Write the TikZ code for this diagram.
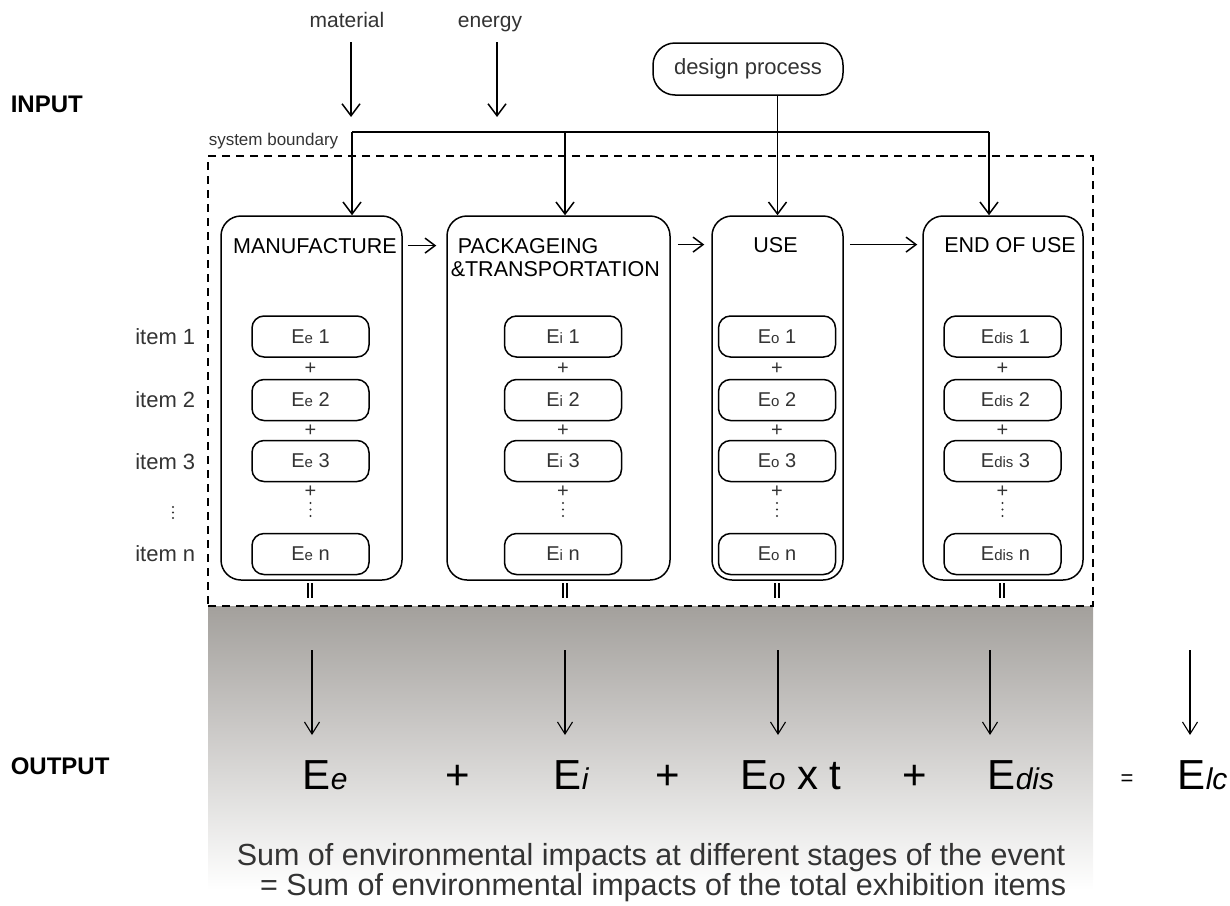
\documentclass[tikz,border=0pt]{standalone}
\usepackage{fontspec}
\setmainfont{Liberation Sans}
\usetikzlibrary{arrows.meta,calc}
\definecolor{txt}{HTML}{333333}
\definecolor{gtop}{RGB}{163,160,156}
\newcommand{\myfs}[1]{\fontsize{#1}{#1}\selectfont}
\begin{document}
\begin{tikzpicture}[x=1pt,y=-1pt,line width=1.5pt,
  arr/.style={-{Straight Barb[length=12pt,width=18pt,line width=1.5pt]}},
  sarr/.style={-{Straight Barb[length=10pt,width=15pt,line width=1.5pt]}},
  oarr/.style={line width=1.1pt,-{Straight Barb[length=12pt,width=15pt,line width=1.1pt]}},
  stagebox/.style={draw,rounded corners=20pt,inner sep=0pt,minimum height=364pt,minimum width=#1},
  itembox/.style={draw,rounded corners=12pt,inner sep=0pt,minimum width=117pt,minimum height=41pt,text=txt,font=\myfs{20}},
  title/.style={inner sep=0pt,anchor=base,font=\myfs{21.5}},
  lbl/.style={inner sep=0pt,text=txt},
  plus/.style={inner sep=0pt,text=txt,font=\myfs{20}},
  big/.style={inner sep=0pt,anchor=base west,font=\myfs{42}},
  dbar/.style={line width=1.2pt}
]
\useasboundingbox (0,0) rectangle (1230,905);
% gradient output area
\shade[top color=gtop,bottom color=white] (208,606) rectangle (1093,890);

% labels left
\node[inner sep=0pt,anchor=west,font=\bfseries\myfs{24}] (inp) at (10,104) {INPUT};
\node[inner sep=0pt,anchor=west,font=\bfseries\myfs{24}] (outp) at (10,766) {OUTPUT};

% inputs
\node[lbl,anchor=base,font=\myfs{21}] (mat) at (347,27) {material};
\node[lbl,anchor=base,font=\myfs{21}] (ene) at (490,27) {energy};
\coordinate (ma1) at (351,42); \coordinate (ma2) at (351,117);
\coordinate (en1) at (497,42); \coordinate (en2) at (497,117);
\draw[arr] (ma1) -- (ma2);
\draw[arr] (en1) -- (en2);
\node[draw,rounded corners=22pt,minimum width=190pt,minimum height=52pt,inner sep=0pt,font=\myfs{22},text=txt] (dp) at (748,69) {design process};

% system boundary
\node[lbl,anchor=west,font=\myfs{17}] (sbl) at (208,141) {system boundary};
\node[draw,dash pattern=on 8pt off 6pt,minimum width=885pt,minimum height=450pt,inner sep=0pt] (sb) at (650.5,381) {};

% stage boxes
\node[stagebox=181pt] (man) at (311.5,398) {};
\node[stagebox=223pt] (pack) at (558.5,398) {};
\node[stagebox=131pt] (use) at (777.5,398) {};
\node[stagebox=160pt] (eou) at (1003,398) {};
\node[title] (mant) at (315,253) {MANUFACTURE};
\node[title,anchor=base west] (packt) at (457,253) {PACKAGEING};
\node[title,anchor=base west] (packt2) at (450,276) {\&TRANSPORTATION};
\node[title] (uset) at (775.5,252) {USE};
\node[title] (eout) at (1010,252) {END OF USE};

% bus
\coordinate (busL) at (352,132);
\coordinate (busP) at (565,132);
\coordinate (busR) at (989,132);
\draw (busL) -- (busR);
\draw[arr] (busL) -- (busL |- man.north);
\draw[arr] (busP) -- (busP |- pack.north);
\draw[arr] (busR) -- (busR |- eou.north);
\draw[arr] (dp.south -| use.north) -- (use.north);

% stage to stage
\draw[sarr,shorten <=5pt,shorten >=10pt] (man.east |- mant) -- (pack.west |- mant);
\draw[sarr,shorten <=7pt,shorten >=7pt] (pack.east |- uset) -- (use.west |- uset);
\draw[sarr,shorten <=6pt,shorten >=5pt] (use.east |- uset) -- (eou.west |- uset);

% item labels
\foreach \n/\t/\y in {l1/item 1/337,l2/item 2/400,l3/item 3/462,ln/item n/554}{
  \node[lbl,anchor=east,font=\myfs{22}] (\n) at (196,\y) {\t};
}
\foreach \yy in {507,512.5,518}{\fill[txt] (173,\yy) circle (1.2);}

% item boxes
\foreach \c/\x/\s/\o in {e/310.5/e/0,i/563/i/0,o/777/o/0,d/1002.5/dis/6}{
  \node[itembox] (\c1) at (\x,336.5) {\hspace*{\o pt}E{\myfs{15}\s} 1};
  \node[itembox] (\c2) at (\x,400) {\hspace*{\o pt}E{\myfs{15}\s} 2};
  \node[itembox] (\c3) at (\x,461) {\hspace*{\o pt}E{\myfs{15}\s} 3};
  \node[itembox] (\c n) at (\x,554) {\hspace*{\o pt}E{\myfs{15}\s} n};
  \node[plus] (\c p1) at (\x,369) {+};
  \node[plus] (\c p2) at (\x,431) {+};
  \node[plus] (\c p3) at (\x,492) {+};
  \foreach \yy in {503,509.5,516}{\fill[txt] (\x,\yy) circle (1.2);}
}

% equal bars
\foreach \x in {310,565,777,1002}{
  \draw[dbar] (\x-2,583) -- (\x-2,598);
  \draw[dbar] (\x+2,583) -- (\x+2,598);
}

% output arrows
\foreach \k/\x in {a/312,b/565,c/778,d/990,f/1190}{
  \coordinate (o\k1) at (\x,650);
  \coordinate (o\k2) at (\x,735);
  \draw[oarr] (o\k1) -- (o\k2);
}

% formula
\node[big] (fe) at (302,789) {E{\myfs{30}\itshape e}};
\node[big,anchor=base] (fp1) at (458,789) {+};
\node[big] (fi) at (553,789) {E{\myfs{30}\itshape i}};
\node[big,anchor=base] (fp2) at (668,789) {+};
\node[big] (fo) at (740,789) {E{\myfs{30}\itshape o} x t};
\node[big,anchor=base] (fp3) at (915,789) {+};
\node[big] (fd) at (987,789) {E{\myfs{30}\itshape dis}};
\node[inner sep=0pt,anchor=base,font=\myfs{22}] (feq) at (1127,785) {=};
\node[big] (fl) at (1177,789) {E{\myfs{30}\itshape lc}};

% bottom text
\node[lbl,anchor=base east,font=\myfs{30.5}] (s1) at (1066,865) {Sum of environmental impacts at different stages of the event};
\node[lbl,anchor=base east,font=\myfs{30.5}] (s2) at (1067,895) {= Sum of environmental impacts of the total exhibition items};
\end{tikzpicture}
\end{document}
